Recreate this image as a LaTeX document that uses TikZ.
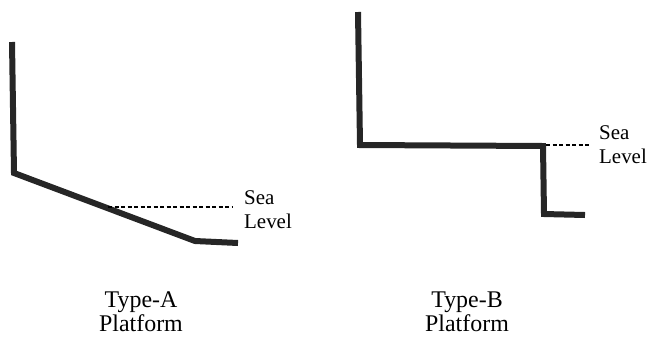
\documentclass[tikz,border=0pt]{standalone}
\usepackage{fontspec}
\setmainfont{Liberation Serif}
\begin{document}
\begin{tikzpicture}[x=1bp,y=-1bp,
  wall/.style={line width=6bp,color=black!85,line join=miter},
  sea/.style={line width=1.3bp,dash pattern=on 4bp off 2.5bp},
  sealabel/.style={font=\fontsize{21}{24}\selectfont,align=left,anchor=base west,inner sep=0pt},
  caption/.style={font=\fontsize{24}{24}\selectfont,align=center,anchor=base,inner sep=0pt}]
\useasboundingbox (0,0) rectangle (651,337);
% Type A
\coordinate (a1) at (12,42);
\coordinate (a2) at (14,173);
\coordinate (a3) at (195,241);
\coordinate (a4) at (238,243);
\draw[wall] (a1) -- (a2) -- (a3) -- (a4);
\coordinate (as) at (108,207);
\coordinate (ae) at (232,207);
\draw[sea] (as) -- (ae);
\node[sealabel] (sa) at (244,228) {Sea\\Level};
\node[caption] (ca) at (141,331) {Type-A\\Platform};
% Type B
\coordinate (b1) at (358,12);
\coordinate (b2) at (360,145);
\coordinate (b3) at (543,146);
\coordinate (b4) at (544,214);
\coordinate (b5) at (585,215);
\draw[wall] (b1) -- (b2) -- (b3) -- (b4) -- (b5);
\coordinate (bs) at (546,145);
\coordinate (be) at (590,145);
\draw[sea] (bs) -- (be);
\node[sealabel] (sb) at (599,163) {Sea\\Level};
\node[caption] (cb) at (467,331) {Type-B\\Platform};
\end{tikzpicture}
\end{document}
